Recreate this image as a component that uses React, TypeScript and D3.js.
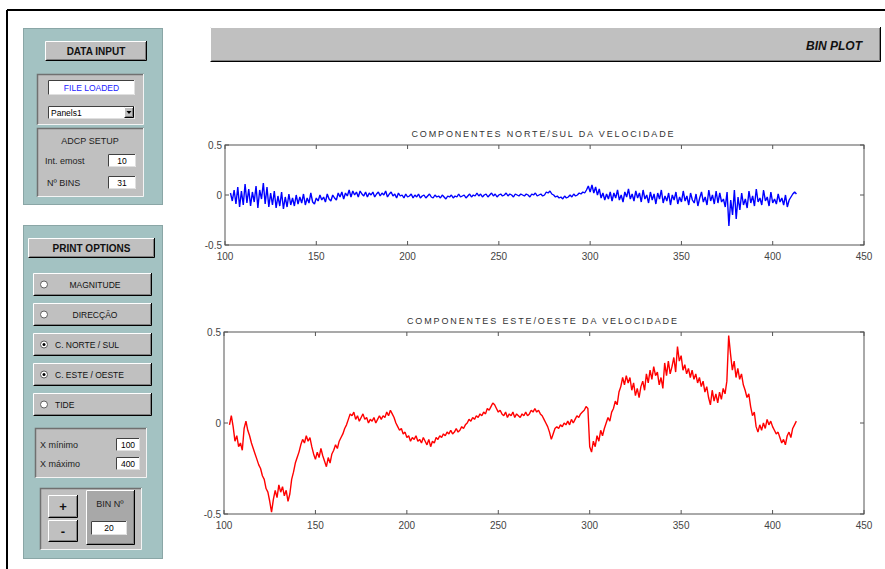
import * as d3 from "d3";

// --- data ---
const X_START = 103;

// north/south component (blue), one value per x unit from 103 to 413
const nsVelocity = [
  0.02, -0.06, 0.05, -0.09, 0.08, -0.12, 0.04, -0.10, 0.11, -0.08,
  0.06, -0.11, 0.03, -0.07, 0.09, -0.13, 0.05, -0.04, 0.12, -0.09,
  0.08, -0.12, 0.02, -0.10, 0.04, -0.13, -0.01, -0.11, 0.03, -0.14,
  -0.02, -0.12, 0.01, -0.10, -0.03, -0.11, 0.00, -0.09, -0.02, -0.08,
  0.01, -0.10, -0.03, -0.08, 0.02, -0.07, -0.09, -0.03, -0.06, 0.00,
  -0.05, -0.02, -0.07, 0.01, -0.04, -0.06, 0.00, -0.03, -0.05, 0.02,
  -0.02, 0.03, -0.04, 0.02, -0.01, 0.05, -0.02, 0.04, 0.00, 0.03,
  -0.02, 0.04, 0.01, -0.01, 0.03, -0.02, 0.02, 0.00, 0.03, -0.02,
  0.01, 0.03, -0.01, 0.02, 0.00, 0.04, -0.02, 0.01, 0.03, -0.01,
  0.01, -0.03, 0.02, -0.01, 0.00, -0.03, 0.01, -0.02, -0.01, 0.01,
  -0.03, 0.00, -0.02, 0.01, -0.03, -0.01, 0.00, -0.03, -0.01, 0.01,
  -0.02, -0.03, 0.00, -0.02, -0.01, -0.03, 0.00, -0.02, -0.04, -0.01,
  -0.02, 0.00, -0.03, -0.01, -0.02, 0.01, -0.02, -0.01, 0.00, -0.03,
  -0.01, 0.01, -0.02, 0.00, -0.01, 0.02, -0.01, 0.01, -0.02, 0.00,
  0.01, -0.02, 0.00, 0.02, -0.01, 0.01, -0.02, 0.00, 0.01, -0.01,
  0.00, 0.02, -0.01, 0.01, 0.00, -0.02, 0.01, 0.00, -0.01, 0.01,
  0.00, -0.01, 0.01, 0.00, -0.02, 0.01, 0.00, 0.02, -0.01, 0.00,
  0.01, -0.01, 0.00, 0.03, 0.02, 0.04, 0.01, 0.00, -0.02, -0.01,
  -0.03, -0.02, -0.04, -0.01, -0.03, -0.02, 0.00, -0.02, 0.01, -0.01,
  0.00, 0.02, 0.01, 0.03, 0.02, 0.05, 0.09, 0.03, 0.10, 0.02,
  0.08, 0.00, 0.06, -0.03, 0.02, -0.05, 0.01, -0.04, 0.03, -0.06,
  0.02, -0.03, 0.05, -0.05, 0.00, -0.07, 0.03, -0.02, 0.06, -0.04,
  0.01, -0.06, 0.04, -0.03, 0.02, -0.07, 0.05, -0.04, 0.00, -0.08,
  0.03, -0.05, 0.01, -0.09, 0.02, -0.04, 0.05, -0.08, -0.01, -0.06,
  0.02, -0.10, 0.00, -0.05, 0.03, -0.09, -0.02, -0.07, 0.04, -0.06,
  -0.01, -0.10, 0.02, -0.05, -0.08, 0.01, -0.11, -0.03, 0.03, -0.07,
  -0.02, -0.10, 0.05, -0.06, 0.00, -0.09, 0.04, -0.08, 0.02, -0.07,
  -0.04, -0.12, 0.03, -0.31, -0.05, -0.20, 0.05, -0.24, -0.02, -0.15,
  0.02, -0.10, -0.04, -0.13, 0.04, -0.08, -0.01, -0.11, 0.06, -0.07,
  -0.03, -0.10, 0.05, -0.06, -0.02, -0.11, 0.03, -0.08, -0.04, -0.09,
  0.01, -0.07, -0.03, -0.10, 0.00, -0.12, -0.05, -0.02, 0.01, 0.03,
  0.01,
];

// east/west component (red), same x steps
const eoVelocity = [
  -0.01, 0.04, -0.02, -0.10, -0.07, -0.13, -0.11, -0.15, -0.03, 0.01,
  -0.04, -0.07, -0.11, -0.14, -0.17, -0.20, -0.23, -0.25, -0.29, -0.31,
  -0.36, -0.38, -0.43, -0.49, -0.42, -0.37, -0.41, -0.34, -0.38, -0.35,
  -0.40, -0.37, -0.43, -0.39, -0.31, -0.27, -0.22, -0.19, -0.16, -0.12,
  -0.09, -0.11, -0.07, -0.10, -0.08, -0.13, -0.17, -0.20, -0.16, -0.19,
  -0.14, -0.18, -0.21, -0.24, -0.19, -0.22, -0.17, -0.15, -0.12, -0.14,
  -0.10, -0.08, -0.06, -0.03, -0.01, 0.02, 0.05, 0.04, 0.06, 0.02,
  0.04, 0.01, 0.03, 0.05, 0.02, 0.03, 0.00, 0.02, 0.01, 0.03,
  0.00, 0.02, 0.04, 0.02, 0.04, 0.03, 0.06, 0.04, 0.07, 0.05,
  0.03, 0.00, -0.02, -0.04, -0.03, -0.06, -0.05, -0.08, -0.07, -0.10,
  -0.08, -0.09, -0.07, -0.10, -0.09, -0.11, -0.08, -0.10, -0.12, -0.09,
  -0.13, -0.10, -0.11, -0.08, -0.09, -0.07, -0.08, -0.06, -0.07, -0.05,
  -0.06, -0.04, -0.06, -0.05, -0.03, -0.05, -0.04, -0.02, -0.03, -0.01,
  0.00, 0.02, 0.01, 0.03, 0.02, 0.04, 0.03, 0.05, 0.04, 0.06,
  0.05, 0.08, 0.07, 0.09, 0.11, 0.10, 0.08, 0.06, 0.07, 0.05,
  0.04, 0.06, 0.03, 0.05, 0.04, 0.06, 0.03, 0.05, 0.04, 0.03,
  0.05, 0.04, 0.06, 0.04, 0.05, 0.07, 0.06, 0.08, 0.06, 0.07,
  0.05, 0.04, 0.02, 0.00, -0.02, -0.05, -0.09, -0.06, -0.03, -0.02,
  -0.03, -0.01, -0.02, 0.00, -0.01, 0.01, -0.01, 0.02, 0.00, 0.02,
  0.04, 0.03, 0.05, 0.06, 0.07, 0.09, 0.08, -0.13, -0.16, -0.10,
  -0.13, -0.07, -0.10, -0.04, -0.07, -0.03, 0.00, 0.03, 0.01, 0.06,
  0.08, 0.12, 0.10, 0.17, 0.20, 0.25, 0.21, 0.26, 0.22, 0.25,
  0.18, 0.22, 0.15, 0.19, 0.14, 0.20, 0.23, 0.18, 0.27, 0.22,
  0.29, 0.24, 0.31, 0.26, 0.28, 0.21, 0.25, 0.19, 0.33, 0.26,
  0.34, 0.27, 0.31, 0.36, 0.28, 0.42, 0.34, 0.37, 0.29, 0.32,
  0.27, 0.30, 0.25, 0.29, 0.24, 0.27, 0.22, 0.25, 0.20, 0.23,
  0.17, 0.20, 0.14, 0.10, 0.18, 0.12, 0.16, 0.11, 0.17, 0.13,
  0.19, 0.16, 0.23, 0.48, 0.38, 0.29, 0.34, 0.25, 0.30, 0.24,
  0.27, 0.21, 0.18, 0.14, 0.16, 0.09, 0.04, 0.06, -0.02, -0.05,
  -0.01, -0.04, 0.00, -0.03, 0.02, -0.01, 0.01, -0.02, -0.04, -0.06,
  -0.05, -0.08, -0.11, -0.09, -0.12, -0.07, -0.05, -0.08, -0.03, -0.01,
  0.01,
];

const xTicks = [100, 150, 200, 250, 300, 350, 400, 450];
const yTicks = [-0.5, 0, 0.5];
const yTickLabels = ["-0.5", "0", "0.5"];

const printOptions = [
  { label: "MAGNITUDE", checked: false, centered: true },
  { label: "DIRECÇÃO", checked: false, centered: true },
  { label: "C. NORTE / SUL", checked: true, centered: false },
  { label: "C. ESTE / OESTE", checked: true, centered: false },
  { label: "TIDE", checked: false, centered: false },
];

const UI_FONT = "'Liberation Sans', Arial, sans-serif";

function Raised({ x, y, w, h, fill = "#c0c0c0" }) {
  return (
    <g>
      <rect x={x} y={y} width={w} height={h} fill={fill} />
      <path d={`M${x + 0.5},${y + h} V${y + 0.5} H${x + w}`} stroke="#ffffff" fill="none" />
      <path d={`M${x + 0.5},${y + h - 0.5} H${x + w - 0.5} V${y}`} stroke="#000" fill="none" />
      <path d={`M${x + 1.5},${y + h - 1.5} H${x + w - 1.5} V${y + 1}`} stroke="#808080" fill="none" />
    </g>
  );
}

function Sunken({ x, y, w, h, fill = "#c0c0c0" }) {
  return (
    <g>
      <rect x={x} y={y} width={w} height={h} fill={fill} />
      <path d={`M${x + 0.5},${y + h} V${y + 0.5} H${x + w}`} stroke="#707070" strokeWidth={1.5} fill="none" />
      <path d={`M${x + 0.5},${y + h - 0.5} H${x + w - 0.5} V${y}`} stroke="#f4f4f4" fill="none" />
    </g>
  );
}

function Edit({ x, y, w, h, text, color = "#000", anchor = "middle" }) {
  const tx = anchor === "middle" ? x + w / 2 : x + 3;
  return (
    <g>
      <rect x={x} y={y} width={w} height={h} fill="#fff" />
      <path d={`M${x + 0.5},${y + h} V${y + 0.5} H${x + w}`} stroke="#404040" fill="none" />
      <path d={`M${x + 0.5},${y + h - 0.5} H${x + w - 0.5} V${y}`} stroke="#e0e0e0" fill="none" />
      <text x={tx} y={y + h / 2 + 3} fontSize={8.5} fill={color} textAnchor={anchor} fontFamily={UI_FONT}>
        {text}
      </text>
    </g>
  );
}

function Plot({ values, color, left, right, top, bottom, title, titleWidth }) {
  const x = d3.scaleLinear().domain([100, 450]).range([left, right]);
  const y = d3.scaleLinear().domain([-0.5, 0.5]).range([bottom, top]);
  const line = d3
    .line<number>()
    .x((_, i) => x(X_START + i))
    .y((d) => y(d));
  const tick = 4;
  return (
    <g fontFamily={UI_FONT}>
      <text
        x={(left + right) / 2 - 2}
        y={top - 8}
        textAnchor="middle"
        fontSize={9}
        fill="#333"
        textLength={titleWidth}
        lengthAdjust="spacing"
      >
        {title}
      </text>
      <path d={line(values)} fill="none" stroke={color} strokeWidth={1.4} strokeLinejoin="bevel" />
      <rect x={left} y={top} width={right - left} height={bottom - top} fill="none" stroke="#555" strokeWidth={1} />
      {xTicks.map((t) => (
        <g key={t}>
          <line x1={x(t)} x2={x(t)} y1={bottom} y2={bottom - tick} stroke="#555" />
          <line x1={x(t)} x2={x(t)} y1={top} y2={top + tick} stroke="#555" />
          <text x={x(t)} y={bottom + 15} textAnchor="middle" fontSize={10} fill="#444">
            {t}
          </text>
        </g>
      ))}
      {yTicks.map((t, i) => (
        <g key={t}>
          <line x1={left} x2={left + tick} y1={y(t)} y2={y(t)} stroke="#555" />
          <line x1={right} x2={right - tick} y1={y(t)} y2={y(t)} stroke="#555" />
          <text x={left - 3} y={y(t) + 4} textAnchor="end" fontSize={10} fill="#444">
            {yTickLabels[i]}
          </text>
        </g>
      ))}
    </g>
  );
}

export default function App() {
  return (
    <svg
      width={885}
      height={569}
      style={{ position: "absolute", left: 0, top: 0, background: "#fff" }}
      fontFamily={UI_FONT}
    >
      {/* outer frame */}
      <line x1={7} x2={885} y1={10} y2={10} stroke="#000" strokeWidth={2} />
      <line x1={7} x2={7} y1={10} y2={569} stroke="#000" strokeWidth={2} />

      {/* title bar */}
      <Raised x={210} y={27} w={671} h={35} />
      <text x={862} y={50} textAnchor="end" fontSize={12} fontStyle="italic" fontWeight="bold" fill="#111">
        BIN PLOT
      </text>

      {/* data input panel */}
      <rect x={23.5} y={28.5} width={139} height={176} fill="#a3c2c2" stroke="#8aa6a6" />
      <Raised x={45} y={41} w={102} h={20} />
      <text x={96} y={55} textAnchor="middle" fontSize={10} fontWeight="bold" fill="#111">
        DATA INPUT
      </text>
      <Sunken x={37} y={74} w={107} h={51} />
      <Edit x={48} y={80} w={87} h={15} text="FILE LOADED" color="#2020ff" />
      <Edit x={48} y={106} w={87} h={13} text="Panels1" anchor="start" />
      <Raised x={124} y={107} w={10} h={11} />
      <path d="M126.5,111 L131.5,111 L129,114 Z" fill="#000" />
      <Sunken x={37} y={128} w={107} h={69} />
      <text x={90} y={144} textAnchor="middle" fontSize={9} fill="#222">
        ADCP SETUP
      </text>
      <text x={45} y={164} fontSize={9} fill="#222">
        Int. emost
      </text>
      <Edit x={108} y={154} w={28} h={13} text="10" />
      <text x={47} y={186} fontSize={9} fill="#222">
        Nº BINS
      </text>
      <Edit x={108} y={176} w={28} h={13} text="31" />

      {/* print options panel */}
      <rect x={23.5} y={225.5} width={139} height={333} fill="#a3c2c2" stroke="#8aa6a6" />
      <Raised x={28} y={238} w={127} h={20} />
      <text x={91.5} y={252} textAnchor="middle" fontSize={10} fontWeight="bold" fill="#111">
        PRINT OPTIONS
      </text>
      {printOptions.map((o, i) => {
        const y0 = 273 + i * 30;
        return (
          <g key={o.label}>
            <Raised x={33} y={y0} w={119} h={23} />
            <circle cx={44} cy={y0 + 11.5} r={3.5} fill="#fff" stroke="#606060" />
            {o.checked && <circle cx={44} cy={y0 + 11.5} r={1.5} fill="#000" />}
            <text
              x={o.centered ? 95 : 55}
              y={y0 + 15}
              textAnchor={o.centered ? "middle" : "start"}
              fontSize={8.5}
              fill="#111"
            >
              {o.label}
            </text>
          </g>
        );
      })}
      <Sunken x={35} y={428} w={112} h={50} />
      <text x={40} y={448} fontSize={9} fill="#222">
        X mínimo
      </text>
      <Edit x={116} y={438} w={24} h={13} text="100" />
      <text x={40} y={467} fontSize={9} fill="#222">
        X máximo
      </text>
      <Edit x={116} y={457} w={24} h={13} text="400" />
      <Sunken x={40} y={488} w={102} h={62} />
      <Raised x={48} y={495} w={30} h={23} />
      <text x={63} y={511} textAnchor="middle" fontSize={13} fontWeight="bold" fill="#111">
        +
      </text>
      <Raised x={48} y={520} w={30} h={22} />
      <text x={63} y={536} textAnchor="middle" fontSize={13} fontWeight="bold" fill="#111">
        -
      </text>
      <Raised x={86} y={490} w={49} h={55} fill="#a8a8a8" />
      <text x={110} y={507} textAnchor="middle" fontSize={9} fill="#222">
        BIN Nº
      </text>
      <Edit x={91} y={521} w={36} h={14} text="20" />

      {/* plots */}
      <Plot
        values={nsVelocity}
        color="#0000ff"
        left={225}
        right={864}
        top={145}
        bottom={245}
        title="COMPONENTES NORTE/SUL DA VELOCIDADE"
        titleWidth={262}
      />
      <Plot
        values={eoVelocity}
        color="#ff0000"
        left={224}
        right={864}
        top={332}
        bottom={514}
        title="COMPONENTES ESTE/OESTE DA VELOCIDADE"
        titleWidth={270}
      />
    </svg>
  );
}
